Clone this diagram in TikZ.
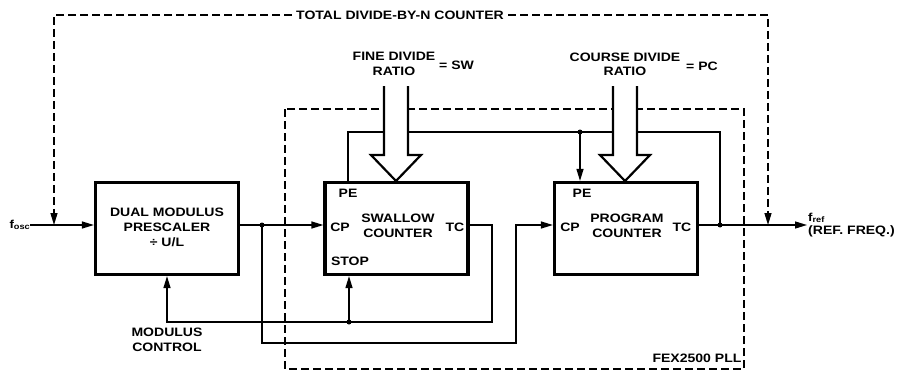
\documentclass[tikz,border=0pt]{standalone}
\usepackage{fontspec}
\setmainfont{Liberation Sans}[FakeStretch=1.15]
\usetikzlibrary{arrows.meta}
\tikzset{
  lbl/.style={font=\fontsize{12.2}{14.5}\selectfont\bfseries, inner sep=0pt, align=center},
  blk/.style={draw, line width=3.2pt, minimum width=143pt, minimum height=92pt, inner sep=0pt},
  wire/.style={line width=1.3pt},
  arr/.style={wire, -{Triangle[length=12pt,width=7pt]}},
  dsh/.style={line width=1.3pt, dash pattern=on 8pt off 4pt},
  dasharr/.style={dsh, -{Triangle[length=12pt,width=7pt]}},
  dotc/.style={circle, fill, inner sep=0pt, minimum size=5pt},
  fat/.style={line width=2pt, fill=white}
}
\begin{document}
\begin{tikzpicture}[x=1pt,y=-1pt]
\useasboundingbox (0,0) rectangle (898,372);
% blocks
\node[blk] (pre) at (167,228.5) {};
\node[blk] (sw) at (396.5,228.5) {};
\node[blk] (pc) at (626,228.5) {};
\node[lbl, font=\fontsize{12.2}{15}\selectfont\bfseries] (preT) at (167,227) {DUAL MODULUS\\PRESCALER\\÷ U/L};
\node[lbl] (swT) at (398,226) {SWALLOW\\COUNTER};
\node[lbl] (pcT) at (627,226) {PROGRAM\\COUNTER};
\node[lbl] (swPE) at (348,193) {PE};
\node[lbl] (swCP) at (340,227) {CP};
\node[lbl] (swTC) at (455,227) {TC};
\node[lbl] (swSTOP) at (350,261) {STOP};
\node[lbl] (pcPE) at (582,193) {PE};
\node[lbl] (pcCP) at (570,227) {CP};
\node[lbl] (pcTC) at (682,227) {TC};
% texts
\node[lbl, fill=white, inner xsep=4pt] (total) at (400,15) {TOTAL DIVIDE-BY-N COUNTER};
\node[lbl] (fine) at (394,64) {FINE DIVIDE\\RATIO};
\node[lbl, anchor=west] (sweq) at (439,65) {= SW};
\node[lbl] (course) at (625,64.5) {COURSE DIVIDE\\RATIO};
\node[lbl, anchor=west] (pceq) at (686,66) {= PC};
\node[lbl] (modc) at (167,340) {MODULUS\\CONTROL};
\node[lbl] (fex) at (697,358) {FEX2500 PLL};
\node[inner sep=0pt, anchor=east] (fosc) at (30,225) {\fontsize{11.5}{12}\selectfont\bfseries f\raisebox{-1.5pt}{\fontsize{8}{8}\selectfont osc}};
\node[inner sep=0pt, anchor=west] (fref) at (808,218) {\fontsize{11.5}{12}\selectfont\bfseries f\raisebox{-1.5pt}{\fontsize{8}{8}\selectfont ref}};
\node[lbl, anchor=west] (refq) at (808,231) {(REF. FREQ.)};
% coordinates
\coordinate (d1) at (262,225);
\coordinate (d2) at (349,322);
\coordinate (d3) at (720,225);
\coordinate (d4) at (580,132);
\coordinate (fout) at (807,225);
% inner dashed box
\draw[dsh] (285,109) rectangle (744,369);
% outer dashed
\draw[dasharr] (total.west) -- (54,15) -- (54,225);
\draw[dasharr] (total.east) -- (768,15) -- (768,225);
% wires
\draw[arr] (fosc.east |- d1) -- (pre.west |- d1);
\draw[wire] (pre.east |- d1) -- (d1);
\draw[arr] (d1) -- (sw.west |- d1);
\draw[arr] (d1) -- (262,343) -- (516,343) -- (516,225) -- (pc.west |- d1);
\draw[arr] (sw.east |- d1) -- (492,225) -- (492,322) -- (167,322) -- (pre.south);
\draw[arr] (d2) -- (sw.south -| d2);
\draw[arr] (pc.east |- d1) -- (fout);
\draw[wire] (d3) -- (720,132) -- (348,132) -- (sw.north -| 348,0);
\draw[arr] (d4) -- (pc.north -| d4);
\node[dotc] (dot1) at (d1) {};
\node[dotc] (dot2) at (d2) {};
\node[dotc] (dot3) at (d3) {};
\node[dotc] (dot4) at (d4) {};
% fat arrows
\fill[white] (384,86) -- (384,155) -- (371,155) -- (396,181) -- (421,155) -- (408,155) -- (408,86) -- cycle;
\draw[line width=2.2pt, line join=miter] (384,86) -- (384,155) -- (371,155) -- (396,181) -- (421,155) -- (408,155) -- (408,86);
\fill[white] (613,86) -- (613,155) -- (600,155) -- (625,181) -- (650,155) -- (637,155) -- (637,86) -- cycle;
\draw[line width=2.2pt, line join=miter] (613,86) -- (613,155) -- (600,155) -- (625,181) -- (650,155) -- (637,155) -- (637,86);
\end{tikzpicture}
\end{document}
